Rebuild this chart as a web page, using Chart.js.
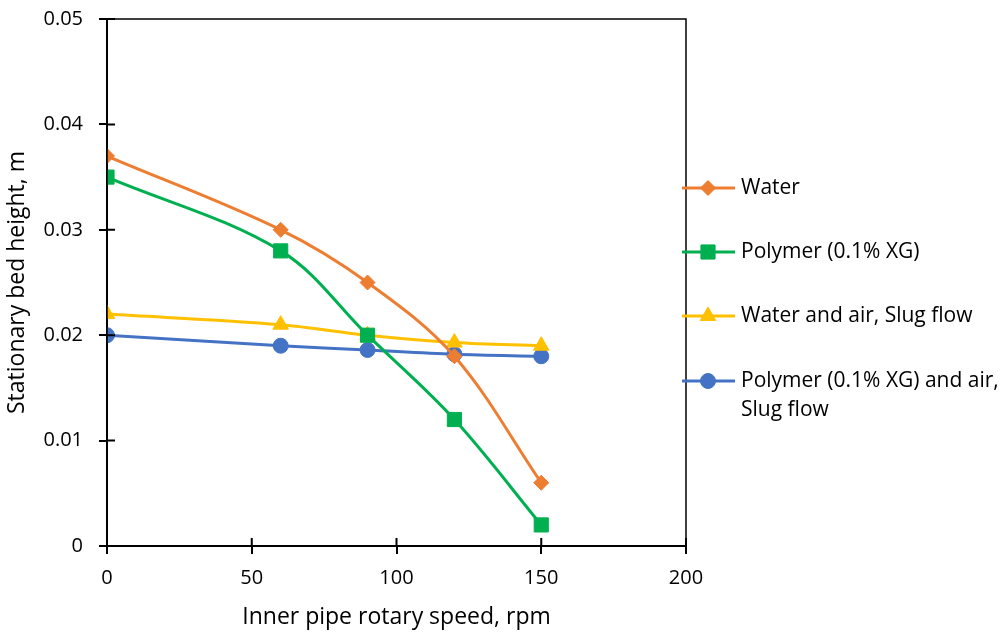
<!DOCTYPE html>
<html>
<head>
<meta charset="utf-8">
<script src="https://cdn.jsdelivr.net/npm/chart.js@4"></script>
<style>
  html, body { margin: 0; padding: 0; background: #fff; }
  #wrap { width: 1005px; height: 635px; }
</style>
</head>
<body>
<div id="wrap"><canvas id="bedChart" width="1005" height="635"></canvas></div>
<script>
// rotary speed (rpm) and bed height (m)
const speed = [0, 60, 90, 120, 150];
const water = [0.037, 0.030, 0.025, 0.018, 0.006];
const polymer = [0.035, 0.028, 0.020, 0.012, 0.002];
const waterAir = [0.022, 0.021, 0.020, 0.0193, 0.019];
const polymerAir = [0.020, 0.019, 0.0186, 0.0182, 0.018];

const names = ['Water', 'Polymer (0.1% XG)', 'Water and air, Slug flow', ['Polymer (0.1% XG) and air,', 'Slug flow']];
const xTicks = [0, 50, 100, 150, 200];
const yTicks = [0, 0.01, 0.02, 0.03, 0.04, 0.05];

const FONT = "'Open Sans', 'Liberation Sans', sans-serif";

function pts(ys) { return speed.map((x, i) => ({ x: x, y: ys[i] })); }

function serie(label, ys, color, style, radius) {
  return {
    label: label,
    data: pts(ys),
    borderColor: color,
    backgroundColor: color,
    borderWidth: 3,
    pointStyle: style,
    pointRadius: radius,
    pointHoverRadius: radius,
    pointBorderWidth: 1,
    tension: 0.35
  };
}

// box around the plot + ticks that cross the axes + legend at the right
const frame = {
  id: 'frame',
  afterDraw(chart) {
    const c = chart.ctx, a = chart.chartArea;
    c.save();
    c.strokeStyle = '#000';
    c.lineWidth = 1.5;
    c.strokeRect(a.left, a.top, a.right - a.left, a.bottom - a.top);
    c.lineWidth = 2;
    c.beginPath();
    xTicks.forEach(v => {
      const px = chart.scales.x.getPixelForValue(v);
      c.moveTo(px, a.bottom); c.lineTo(px, a.bottom - 8);
    });
    yTicks.forEach(v => {
      const py = chart.scales.y.getPixelForValue(v);
      c.moveTo(a.left, py); c.lineTo(a.left + 8, py);
    });
    c.stroke();

    // legend
    const rows = [188, 252, 316, 381];
    c.font = '21px ' + FONT;
    c.textBaseline = 'middle';
    chart.data.datasets.forEach((ds, i) => {
      const y = rows[i];
      c.strokeStyle = ds.borderColor;
      c.fillStyle = ds.borderColor;
      c.lineWidth = 3;
      c.beginPath(); c.moveTo(682, y); c.lineTo(735, y); c.stroke();
      c.lineWidth = 1;
      Chart.helpers.drawPoint(c, {
        pointStyle: ds.pointStyle, radius: ds.pointRadius, borderWidth: 1, rotation: 0
      }, 708, y);
      c.fillStyle = '#000';
      const lines = Array.isArray(names[i]) ? names[i] : [names[i]];
      lines.forEach((t, k) => c.fillText(t, 741, y + k * 29));
    });
    c.restore();
  }
};

new Chart(document.getElementById('bedChart'), {
  type: 'line',
  data: {
    datasets: [
      serie(names[0], water, '#ED7D31', 'rectRot', 7.5),
      serie(names[1], polymer, '#00B050', 'rect', 10),
      serie(names[2], waterAir, '#FFC000', 'triangle', 9),
      serie(names[3].join(' '), polymerAir, '#4472C4', 'circle', 7.5)
    ]
  },
  options: {
    responsive: false,
    animation: false,
    layout: { padding: { left: 0, right: 319, top: 19, bottom: 0 } },
    plugins: { legend: { display: false }, tooltip: { enabled: false } },
    scales: {
      x: {
        type: 'linear',
        min: 0, max: 200,
        afterBuildTicks: s => { s.ticks = xTicks.map(v => ({ value: v })); },
        afterFit: s => { s.height = 89; s.paddingLeft = 0; s.paddingRight = 0; },
        grid: { drawOnChartArea: false, color: '#000', lineWidth: 2, tickLength: 8 },
        border: { color: '#000', width: 2 },
        ticks: { color: '#000', font: { family: FONT, size: 20 }, padding: 12 },
        title: { display: true, text: 'Inner pipe rotary speed, rpm', color: '#000', font: { family: FONT, size: 23 } }
      },
      y: {
        min: 0, max: 0.05,
        afterBuildTicks: s => { s.ticks = yTicks.map(v => ({ value: v })); },
        afterFit: s => { s.width = 107; s.paddingTop = 0; s.paddingBottom = 0; },
        grid: { drawOnChartArea: false, color: '#000', lineWidth: 2, tickLength: 8 },
        border: { color: '#000', width: 2 },
        ticks: {
          color: '#000', font: { family: FONT, size: 20 }, padding: 16,
          callback: v => v === 0 ? '0' : v.toFixed(2)
        },
        title: { display: true, text: 'Stationary bed height, m', color: '#000', font: { family: FONT, size: 23 }, padding: { top: 4, bottom: 4 } }
      }
    }
  },
  plugins: [frame]
});
</script>
</body>
</html>
